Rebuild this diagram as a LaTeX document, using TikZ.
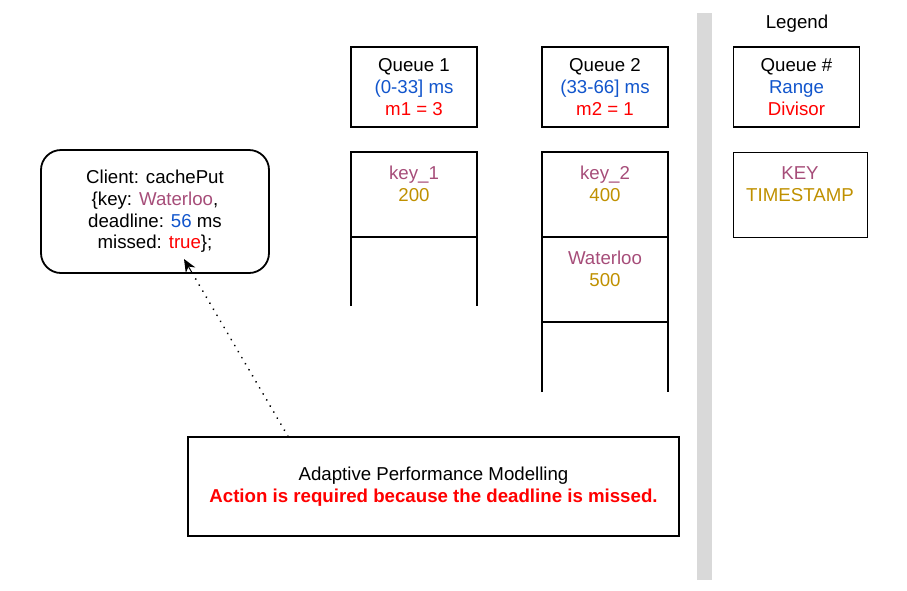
\documentclass[tikz,border=0pt]{standalone}
\usepackage{fontspec}
\setmainfont{Liberation Sans}
\usetikzlibrary{arrows.meta,calc}
\definecolor{cblue}{HTML}{1155CC}
\definecolor{cred}{HTML}{FF0000}
\definecolor{ckey}{HTML}{A64D79}
\definecolor{cts}{HTML}{BF9000}
\definecolor{cbar}{HTML}{D9D9D9}
\begin{document}
\begin{tikzpicture}[x=1pt,y=-1pt,
  every node/.style={font=\fontsize{18.67}{21.7}\selectfont, align=center, inner sep=0pt},
  headbox/.style={draw, line width=1.8pt, minimum width=126pt, minimum height=80pt},
  colline/.style={line width=1.1pt},
]
\useasboundingbox (0,0) rectangle (907,590);
% legend bar
\fill[cbar] (697,13) rectangle (712,580);
\node (legend) at (797,24) {Legend};

% header boxes
\node[headbox] (q1) at (414,87) {Queue 1\\\textcolor{cblue}{(0-33] ms}\\\textcolor{cred}{m1 = 3}};
\node[headbox] (q2) at (605,87) {Queue 2\\\textcolor{cblue}{(33-66] ms}\\\textcolor{cred}{m2 = 1}};
\node[headbox] (ql) at (796.5,87) {Queue \#\\\textcolor{cblue}{Range}\\\textcolor{cred}{Divisor}};

% queue 1 column
\draw[colline] (351,306) -- (351,152) -- (477,152) -- (477,306);
\draw[colline] (351,237) -- (477,237);
\node (k1) at (414,184) {\textcolor{ckey}{key\_1}\\\textcolor{cts}{200}};

% queue 2 column
\draw[colline] (542,392) -- (542,152) -- (668,152) -- (668,392);
\draw[colline] (542,237) -- (668,237);
\draw[colline] (542,322) -- (668,322);
\node (k2) at (605,184) {\textcolor{ckey}{key\_2}\\\textcolor{cts}{400}};
\node (k3) at (605,269) {\textcolor{ckey}{Waterloo}\\\textcolor{cts}{500}};

% legend cell
\node[draw, line width=0.9pt, minimum width=134pt, minimum height=85pt] (lcell) at (800,194.5) {};
\node (ltext) at (800,184) {\textcolor{ckey}{KEY}\\\textcolor{cts}{TIMESTAMP}};

% client box
\node[draw, line width=1.8pt, rounded corners=20pt, minimum width=228pt, minimum height=123pt] (client) at (155,211.5)
  {Client: cachePut\\\{key: \textcolor{ckey}{Waterloo},\\deadline: \textcolor{cblue}{56} ms\\missed: \textcolor{cred}{true}\};};

% bottom box
\node[draw, line width=1.5pt, minimum width=491pt, minimum height=99pt] (apm) at (433.5,486.5)
  {Adaptive Performance Modelling\\\textcolor{cred}{\bfseries Action is required because the deadline is missed.}};

% dotted arrow
\coordinate (src) at ([xshift=-145.5pt]apm.north);
\coordinate (tip) at (184,259);
\draw[line width=2pt, line cap=round, dash pattern=on 0.01pt off 7pt, shorten >=10pt] (src) -- (tip);
\draw[line width=1pt, -{Stealth[length=13pt,width=11pt]}] ($(src)!0.92!(tip)$) -- (tip);
\end{tikzpicture}
\end{document}
